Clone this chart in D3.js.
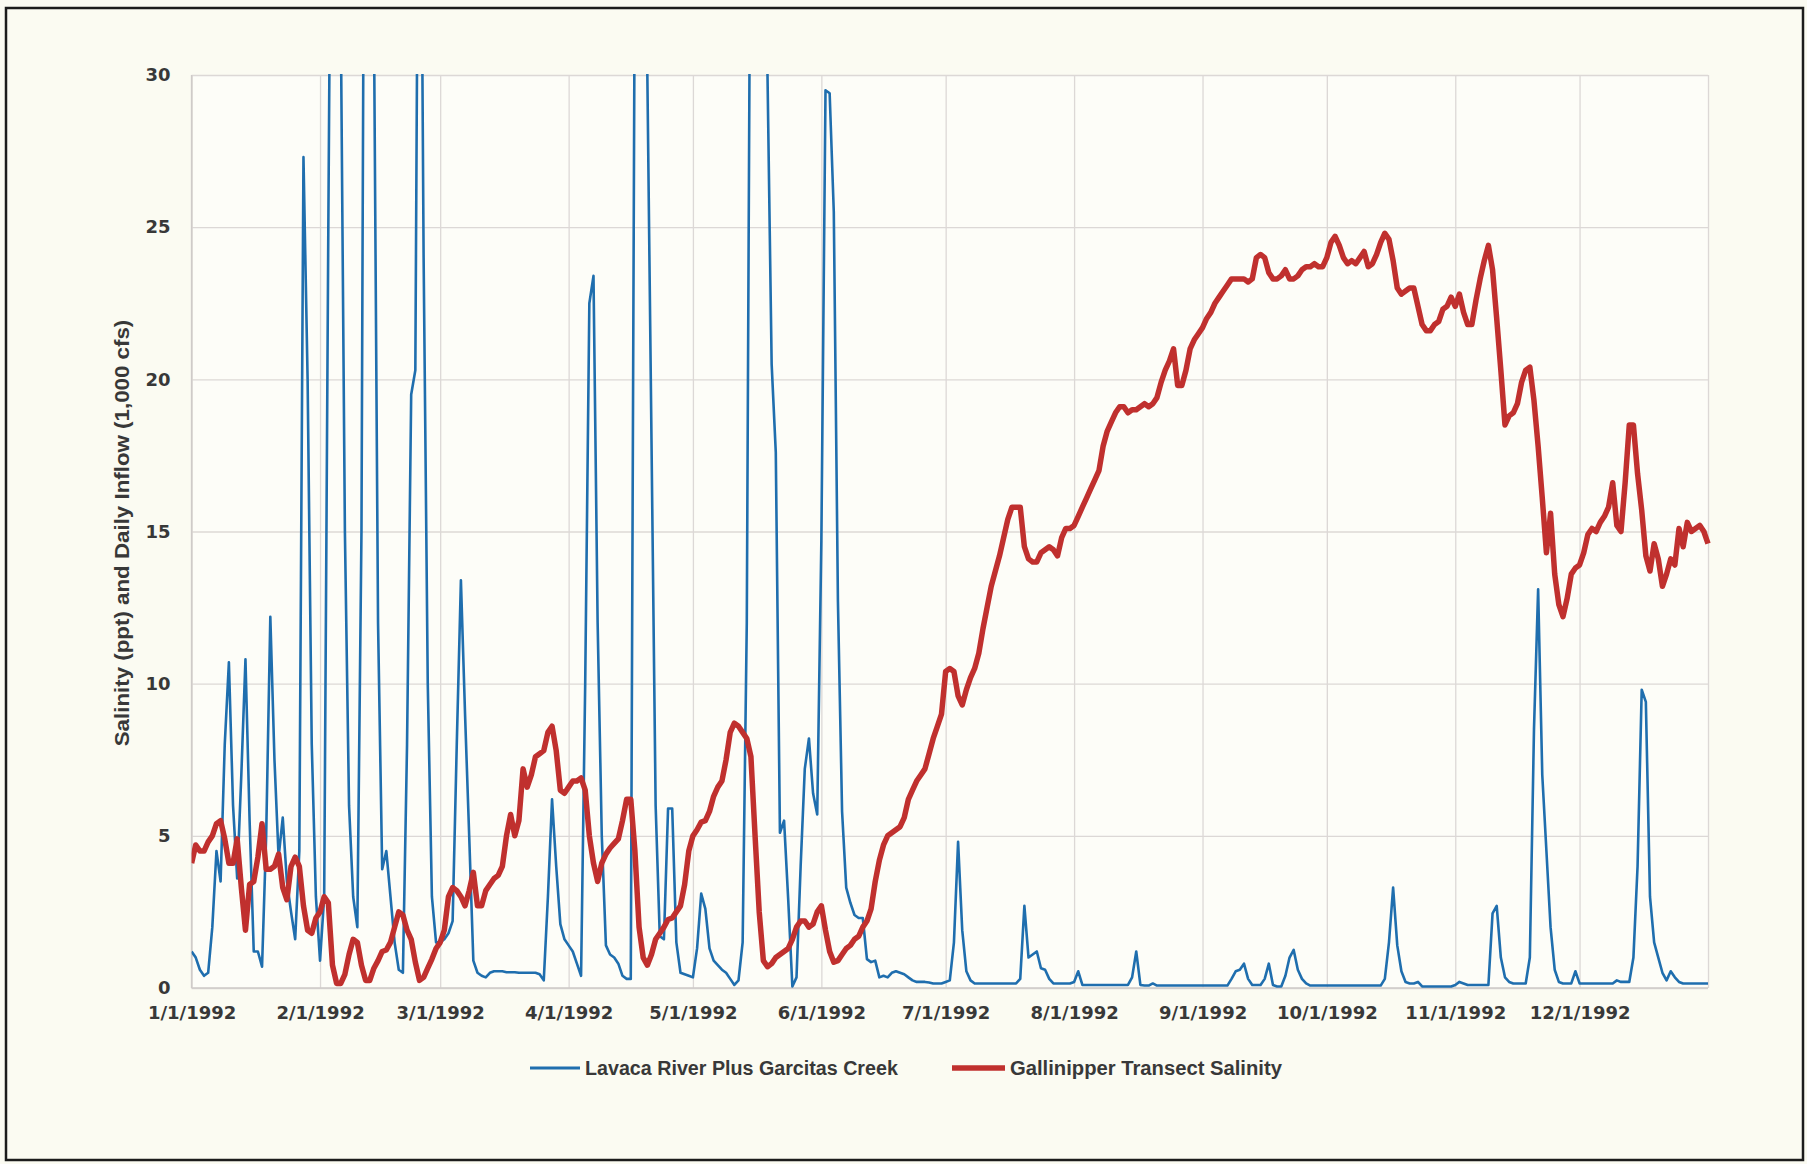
<!DOCTYPE html>
<html>
<head>
<meta charset="utf-8">
<script src="https://cdn.jsdelivr.net/npm/d3@7"></script>
<style>
  html, body { margin: 0; padding: 0; background: #fbfbf2; }
  svg { display: block; }
</style>
</head>
<body>
<svg id="chart" width="1807" height="1164"></svg>
<script>
// ---------------- DATA ----------------
const startDate = "1992-01-01";
const endDate = "1993-01-01";

// Daily inflow, 1,000 cfs (Jan 1 1992 .. Jan 1 1993)
const inflow = [
  1.2, 1.0, 0.6, 0.4, 0.5, 2.0, 4.5, 3.5, 8.0, 10.7,
  6.0, 3.6, 7.0, 10.8, 5.5, 1.2, 1.2, 0.7, 5.0, 12.2,
  7.5, 4.3, 5.6, 3.5, 2.5, 1.6, 4.5, 27.3, 20, 8,
  3, 0.9, 3, 25, 45, 45, 32, 15, 6, 3,
  2, 15, 50, 50, 32, 12, 3.9, 4.5, 3, 1.5,
  0.6, 0.5, 8, 19.5, 20.3, 45, 24, 10, 3, 1.5,
  1.5, 1.6, 1.8, 2.2, 8, 13.4, 9, 5, 0.9, 0.5,
  0.4, 0.35, 0.5, 0.55, 0.55, 0.55, 0.52, 0.52, 0.52, 0.5,
  0.5, 0.5, 0.5, 0.5, 0.45, 0.25, 3, 6.2, 4, 2.1,
  1.6, 1.4, 1.2, 0.8, 0.4, 10, 22.5, 23.4, 12, 5,
  1.4, 1.1, 1.0, 0.8, 0.4, 0.3, 0.3, 35, 50, 45,
  30, 18, 6, 1.7, 1.6, 5.9, 5.9, 1.5, 0.5, 0.45,
  0.4, 0.35, 1.3, 3.1, 2.6, 1.3, 0.9, 0.75, 0.6, 0.5,
  0.3, 0.1, 0.25, 1.5, 12, 40, 50, 50, 40, 30,
  20.5, 17.6, 5.1, 5.5, 2.9, 0.05, 0.35, 4, 7.2, 8.2,
  6.4, 5.7, 14.7, 29.5, 29.4, 25.5, 12.7, 5.8, 3.3, 2.8,
  2.4, 2.3, 2.3, 0.95, 0.85, 0.9, 0.35, 0.4, 0.35, 0.5,
  0.55, 0.5, 0.45, 0.35, 0.25, 0.2, 0.2, 0.2, 0.18, 0.15,
  0.15, 0.15, 0.2, 0.25, 1.5, 4.8, 1.9, 0.55, 0.25, 0.15,
  0.15, 0.15, 0.15, 0.15, 0.15, 0.15, 0.15, 0.15, 0.15, 0.15,
  0.3, 2.7, 1.0, 1.1, 1.2, 0.65, 0.6, 0.3, 0.15, 0.15,
  0.15, 0.15, 0.15, 0.2, 0.55, 0.1, 0.1, 0.1, 0.1, 0.1,
  0.1, 0.1, 0.1, 0.1, 0.1, 0.1, 0.1, 0.35, 1.2, 0.1,
  0.08, 0.08, 0.15, 0.08, 0.08, 0.08, 0.08, 0.08, 0.08, 0.08,
  0.08, 0.08, 0.08, 0.08, 0.08, 0.08, 0.08, 0.08, 0.08, 0.08,
  0.08, 0.3, 0.55, 0.6, 0.8, 0.3, 0.1, 0.1, 0.1, 0.3,
  0.8, 0.1, 0.05, 0.05, 0.4, 1.0, 1.25, 0.6, 0.3, 0.15,
  0.08, 0.08, 0.08, 0.08, 0.08, 0.08, 0.08, 0.08, 0.08, 0.08,
  0.08, 0.08, 0.08, 0.08, 0.08, 0.08, 0.08, 0.08, 0.3, 1.5,
  3.3, 1.4, 0.55, 0.2, 0.15, 0.15, 0.2, 0.05, 0.05, 0.05,
  0.05, 0.05, 0.05, 0.05, 0.05, 0.1, 0.2, 0.15, 0.1, 0.1,
  0.1, 0.1, 0.1, 0.1, 2.45, 2.7, 1.0, 0.35, 0.2, 0.15,
  0.15, 0.15, 0.15, 1.0, 8.5, 13.1, 7, 4.5, 2.0, 0.6,
  0.2, 0.15, 0.15, 0.15, 0.55, 0.15, 0.15, 0.15, 0.15, 0.15,
  0.15, 0.15, 0.15, 0.15, 0.25, 0.2, 0.2, 0.2, 1.0, 4,
  9.8, 9.4, 3, 1.5, 1.0, 0.5, 0.25, 0.55, 0.35, 0.2,
  0.15, 0.15, 0.15, 0.15, 0.15, 0.15, 0.15
];

// Gallinipper transect salinity, ppt
const salinity = [
  4.1, 4.7, 4.5, 4.5, 4.8, 5.0, 5.4, 5.5, 4.9, 4.1,
  4.1, 4.9, 3.3, 1.9, 3.4, 3.5, 4.3, 5.4, 3.9, 3.9,
  4.0, 4.4, 3.3, 2.9, 4.0, 4.3, 4.0, 2.7, 1.9, 1.8,
  2.3, 2.5, 3.0, 2.8, 0.75, 0.15, 0.15, 0.45, 1.1, 1.6,
  1.5, 0.75, 0.25, 0.25, 0.65, 0.9, 1.2, 1.25, 1.5, 2.0,
  2.5, 2.4, 1.9, 1.6, 0.85, 0.25, 0.35, 0.65, 0.95, 1.3,
  1.5, 1.9, 3.0, 3.3, 3.2, 3.0, 2.7, 3.2, 3.8, 2.7,
  2.7, 3.2, 3.4, 3.6, 3.7, 4.0, 5.0, 5.7, 5.0, 5.5,
  7.2, 6.6, 7.0, 7.6, 7.7, 7.8, 8.4, 8.6, 7.8, 6.5,
  6.4, 6.6, 6.8, 6.8, 6.9, 6.5, 5.0, 4.1, 3.5, 4.1,
  4.4, 4.6, 4.75, 4.9, 5.5, 6.2, 6.2, 4.5, 2.0, 1.0,
  0.75, 1.1, 1.6, 1.8, 2.0, 2.25, 2.3, 2.5, 2.7, 3.4,
  4.5, 5.0, 5.2, 5.45, 5.5, 5.8, 6.3, 6.6, 6.8, 7.5,
  8.4, 8.7, 8.6, 8.4, 8.2, 7.6, 5.0, 2.5, 0.9, 0.7,
  0.8, 1.0, 1.1, 1.2, 1.3, 1.6, 2.0, 2.2, 2.2, 2.0,
  2.1, 2.5, 2.7, 1.9, 1.2, 0.85, 0.9, 1.1, 1.3, 1.4,
  1.6, 1.7, 2.0, 2.2, 2.6, 3.5, 4.2, 4.7, 5.0, 5.1,
  5.2, 5.3, 5.6, 6.2, 6.5, 6.8, 7.0, 7.2, 7.7, 8.2,
  8.6, 9.0, 10.4, 10.5, 10.4, 9.6, 9.3, 9.8, 10.2, 10.5,
  11.0, 11.8, 12.5, 13.2, 13.7, 14.2, 14.8, 15.4, 15.8, 15.8,
  15.8, 14.5, 14.1, 14.0, 14.0, 14.3, 14.4, 14.5, 14.4, 14.2,
  14.8, 15.1, 15.1, 15.2, 15.5, 15.8, 16.1, 16.4, 16.7, 17.0,
  17.8, 18.3, 18.6, 18.9, 19.1, 19.1, 18.9, 19.0, 19.0, 19.1,
  19.2, 19.1, 19.2, 19.4, 19.9, 20.3, 20.6, 21.0, 19.8, 19.8,
  20.3, 21.0, 21.3, 21.5, 21.7, 22.0, 22.2, 22.5, 22.7, 22.9,
  23.1, 23.3, 23.3, 23.3, 23.3, 23.2, 23.3, 24.0, 24.1, 24.0,
  23.5, 23.3, 23.3, 23.4, 23.6, 23.3, 23.3, 23.4, 23.6, 23.7,
  23.7, 23.8, 23.7, 23.7, 24.0, 24.5, 24.7, 24.4, 24.0, 23.8,
  23.9, 23.8, 24.0, 24.2, 23.7, 23.8, 24.1, 24.5, 24.8, 24.6,
  23.9, 23.0, 22.8, 22.9, 23.0, 23.0, 22.4, 21.8, 21.6, 21.6,
  21.8, 21.9, 22.3, 22.4, 22.7, 22.4, 22.8, 22.2, 21.8, 21.8,
  22.6, 23.3, 23.9, 24.4, 23.6, 22.0, 20.3, 18.5, 18.8, 18.9,
  19.2, 19.9, 20.3, 20.4, 19.3, 17.8, 16.1, 14.3, 15.6, 13.6,
  12.6, 12.2, 12.8, 13.6, 13.8, 13.9, 14.3, 14.9, 15.1, 15.0,
  15.3, 15.5, 15.8, 16.6, 15.2, 15.0, 16.6, 18.5, 18.5, 16.9,
  15.7, 14.2, 13.7, 14.6, 14.1, 13.2, 13.6, 14.1, 13.9, 15.1,
  14.5, 15.3, 15.0, 15.1, 15.2, 15.0, 14.6
];

const monthTickDates = ["1992-01-01","1992-02-01","1992-03-01","1992-04-01","1992-05-01","1992-06-01",
                        "1992-07-01","1992-08-01","1992-09-01","1992-10-01","1992-11-01","1992-12-01"];
const monthTickLabels = ["1/1/1992","2/1/1992","3/1/1992","4/1/1992","5/1/1992","6/1/1992",
                         "7/1/1992","8/1/1992","9/1/1992","10/1/1992","11/1/1992","12/1/1992"];
const yTicks = [0, 5, 10, 15, 20, 25, 30];
const seriesNames = ["Lavaca River Plus Garcitas Creek", "Gallinipper Transect Salinity"];
const yTitle = "Salinity (ppt) and Daily Inflow (1,000 cfs)";

// ---------------- CHART ----------------
const svg = d3.select("#chart");
const W = 1807, H = 1164;
const plot = { left: 191.6, right: 1708, top: 75, bottom: 988 };
const colors = { inflow: "#1f6eae", salinity: "#c0302e", grid: "#dcd8d6", text: "#383838" };

const parse = d3.utcParse("%Y-%m-%d");
const t0 = parse(startDate);
const dates = d3.range(inflow.length).map(i => d3.utcDay.offset(t0, i));

const x = d3.scaleUtc().domain([t0, parse(endDate)]).range([plot.left, plot.right]);
const y = d3.scaleLinear().domain([0, 30]).range([plot.bottom, plot.top]);

// background
svg.append("rect").attr("width", W).attr("height", H).attr("fill", "#fbfbf2");
svg.append("rect").attr("x", plot.left).attr("y", plot.top)
  .attr("width", plot.right - plot.left).attr("height", plot.bottom - plot.top)
  .attr("fill", "#fdfdf8");

// gridlines
const yGrid = d3.axisLeft(y).tickValues(yTicks).tickSize(-(plot.right - plot.left)).tickFormat("");
svg.append("g").attr("transform", `translate(${plot.left},0)`).call(yGrid)
  .call(g => g.select(".domain").remove())
  .call(g => g.selectAll("line").attr("stroke", colors.grid).attr("stroke-width", 1.3));

const gridDates = monthTickDates.map(parse).concat([parse(endDate)]);
const xGrid = d3.axisBottom(x).tickValues(gridDates).tickSize(-(plot.bottom - plot.top)).tickFormat("");
svg.append("g").attr("transform", `translate(0,${plot.bottom})`).call(xGrid)
  .call(g => g.select(".domain").remove())
  .call(g => g.selectAll("line").attr("stroke", colors.grid).attr("stroke-width", 1.3));

// axis labels
const tickFont = "'DejaVu Sans', Verdana, sans-serif";
const yAxis = d3.axisLeft(y).tickValues(yTicks).tickSize(0).tickPadding(21);
svg.append("g").attr("transform", `translate(${plot.left},0)`).call(yAxis)
  .call(g => g.select(".domain").remove())
  .call(g => g.selectAll("text")
    .attr("font-family", tickFont)
    .attr("font-weight", "bold").attr("font-size", 18).attr("fill", colors.text));

const xAxis = d3.axisBottom(x).tickValues(monthTickDates.map(parse))
  .tickFormat((d, i) => monthTickLabels[i]).tickSize(0).tickPadding(18);
svg.append("g").attr("transform", `translate(0,${plot.bottom})`).call(xAxis)
  .call(g => g.select(".domain").remove())
  .call(g => g.selectAll("text")
    .attr("font-family", tickFont)
    .attr("font-weight", "bold").attr("font-size", 18).attr("fill", colors.text));

// axis lines
svg.append("line").attr("x1", plot.left).attr("x2", plot.left).attr("y1", plot.top).attr("y2", plot.bottom)
  .attr("stroke", "#cfcbc9").attr("stroke-width", 1.5);
svg.append("line").attr("x1", plot.left).attr("x2", plot.right).attr("y1", plot.bottom).attr("y2", plot.bottom)
  .attr("stroke", "#cfcbc9").attr("stroke-width", 1.5);

// clip
svg.append("clipPath").attr("id", "clip").append("rect")
  .attr("x", plot.left).attr("y", plot.top - 1)
  .attr("width", plot.right - plot.left + 4).attr("height", plot.bottom - plot.top + 6);

const line = d3.line().x((d, i) => x(dates[i])).y(d => y(d));

svg.append("path").datum(inflow).attr("clip-path", "url(#clip)")
  .attr("d", line).attr("fill", "none").attr("stroke", colors.inflow)
  .attr("stroke-width", 2.6).attr("stroke-linejoin", "round");

svg.append("path").datum(salinity).attr("clip-path", "url(#clip)")
  .attr("d", line).attr("fill", "none").attr("stroke", colors.salinity)
  .attr("stroke-width", 5.5).attr("stroke-linejoin", "round");

// condensed text: natural font size, horizontally compressed to the target width
const condFont = "'Liberation Sans', Arial, sans-serif";
function condensedText(x0, y0, rotate, anchor, str, targetWidth, size) {
  const g = svg.append("g").attr("transform", `translate(${x0},${y0}) rotate(${rotate})`);
  const t = g.append("text").attr("text-anchor", anchor).attr("dominant-baseline", "middle")
    .attr("font-family", condFont).attr("font-weight", "bold")
    .attr("font-size", size).attr("fill", colors.text).text(str);
  const w = t.node().getComputedTextLength();
  if (w > 0) t.attr("transform", `scale(${targetWidth / w},1)`);
  return t;
}

// y title
condensedText(123, 533, -90, "middle", yTitle, 427, 21);

// legend
const legY = 1068;
svg.append("line").attr("x1", 530).attr("x2", 580).attr("y1", legY).attr("y2", legY)
  .attr("stroke", colors.inflow).attr("stroke-width", 2.8);
condensedText(585, legY + 1, 0, "start", seriesNames[0], 313, 21);

svg.append("line").attr("x1", 952).attr("x2", 1005).attr("y1", legY).attr("y2", legY)
  .attr("stroke", colors.salinity).attr("stroke-width", 5.5);
condensedText(1010, legY + 1, 0, "start", seriesNames[1], 272, 21);

// outer frame
svg.append("rect").attr("x", 6).attr("y", 8).attr("width", 1797).attr("height", 1152)
  .attr("fill", "none").attr("stroke", "#1c1c1c").attr("stroke-width", 2.5);
</script>
</body>
</html>
